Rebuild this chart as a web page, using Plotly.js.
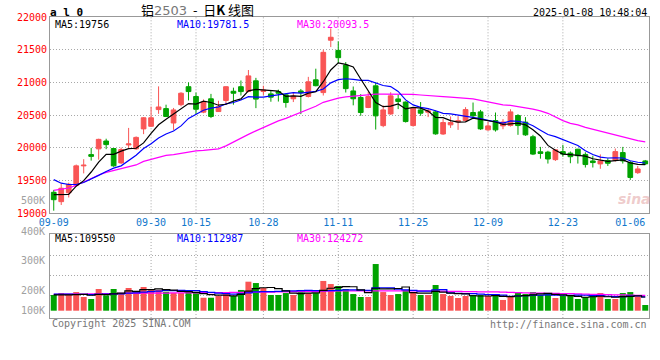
<!DOCTYPE html>
<html><head><meta charset="utf-8">
<script src="https://cdn.plot.ly/plotly-3.0.1.min.js"></script>
<style>html,body{margin:0;padding:0;background:#fff;}#chart{width:660px;height:360px;}</style>
</head><body><div id="chart"></div>
<script>
// ---- data ----
const dates = ['09-09','09-10','09-11','09-12','09-13','09-18','09-19','09-20','09-23','09-24','09-25','09-26','09-27','09-30',
'10-08','10-09','10-10','10-11','10-14','10-15','10-16','10-17','10-18','10-21','10-22','10-23','10-24','10-25','10-28','10-29','10-30','10-31',
'11-01','11-04','11-05','11-06','11-07','11-08','11-11','11-12','11-13','11-14','11-15','11-18','11-19','11-20','11-21','11-22','11-25','11-26','11-27','11-28','11-29',
'12-02','12-03','12-04','12-05','12-06','12-09','12-10','12-11','12-12','12-13','12-16','12-17','12-18','12-19','12-20','12-23','12-24','12-25','12-26','12-27','12-30','12-31',
'01-02','01-03','01-06','01-07','01-08'];
const open = [19321,19178,19314,19430,19725,19897,19985,20105,19990,19770,
20045,19985,20290,20330,20585,20600,20380,20660,20935,20785,
20546,20750,20555,20725,20865,20935,20862,21025,20862,20825,
20860,20810,20750,20870,20785,21040,20845,21645,21490,21265,
20870,20770,20617,20948,20340,20518,20748,20700,20341,20580,
20545,20550,20212,20352,20395,20418,20540,20550,20275,20418,
20336,20341,20494,20393,20170,19940,19935,19820,19943,19920,
19980,19900,19800,19755,19805,19810,19928,19775,19621,19800];
const high = [19357,19459,19468,19745,19827,20000,20140,20140,19995,20005,
20305,20175,20470,20630,20940,20660,20610,20850,21000,20845,
20740,20825,20720,20940,20920,21030,21190,21070,20950,20880,
20890,20826,20850,20900,21085,21210,21500,21825,21627,21311,
20938,20822,20855,21000,20650,20850,20811,20710,20622,20700,
20607,20570,20443,20480,20485,20622,20693,20580,20400,20540,
20440,20590,20515,20470,20199,20015,19955,19980,20045,19945,
19985,19933,19880,19900,19842,19990,20015,19800,19724,19815];
const low = [19040,19127,19242,19410,19610,19805,19820,19980,19710,19755,
20000,19970,20210,20320,20520,20470,20275,20635,20725,20515,
20530,20455,20550,20660,20660,20800,20850,20607,20805,20705,
20708,20615,20700,20515,20770,20940,20800,21540,21296,20846,
20650,20490,20607,20280,20316,20505,20592,20387,20326,20490,
20470,20200,20199,20305,20275,20402,20455,20275,20260,20249,
20285,20326,20199,20183,19890,19835,19760,19800,19866,19765,
19760,19700,19700,19680,19724,19790,19760,19510,19602,19740];
const close = [19208,19383,19444,19725,19735,19870,20130,20050,19725,19975,
20060,20160,20460,20460,20625,20480,20580,20835,20860,20590,
20700,20480,20630,20935,20835,20860,21100,20745,20885,20775,
20835,20693,20790,20845,21010,20950,21460,21690,21378,20905,
20750,20540,20785,20489,20580,20795,20708,20402,20607,20530,
20565,20214,20387,20387,20415,20585,20490,20290,20336,20275,
20395,20550,20341,20199,19905,19915,19830,19970,19905,19865,
19880,19745,19775,19800,19765,19943,19800,19548,19678,19755];
const ma5 = [19285,19285,19290,19415,19499,19631,19781,19902,19902,19950,
19988,19994,20076,20223,20353,20437,20521,20596,20676,20669,
20713,20693,20652,20667,20716,20748,20872,20895,20885,20873,
20868,20787,20796,20788,20835,20858,21011,21191,21298,21277,
21237,21053,20872,20694,20629,20638,20671,20595,20618,20608,
20562,20464,20461,20417,20394,20398,20453,20433,20423,20395,
20357,20369,20379,20352,20278,20182,20038,19964,19905,19897,
19890,19873,19834,19813,19793,19806,19817,19771,19747,19745];
const ma10 = [19515,19460,19440,19440,19470,19520,19580,19640,19690,19725,
19810,19887,19989,20063,20152,20213,20258,20336,20450,20511,
20575,20607,20624,20672,20693,20731,20783,20774,20776,20795,
20808,20829,20845,20836,20854,20863,20899,20993,21043,21056,
21047,21032,21031,20996,20953,20937,20862,20733,20656,20619,
20600,20568,20528,20518,20501,20480,20458,20447,20420,20394,
20377,20411,20406,20388,20337,20270,20204,20172,20129,20088,
20036,19956,19899,19859,19845,19848,19845,19803,19780,19769];
const ma30 = [19349,19364,19387,19426,19479,19533,19586,19625,19652,19678,
19709,19739,19793,19823,19862,19885,19897,19915,19938,19954,
19961,19977,19984,20030,20091,20153,20206,20260,20313,20367,
20413,20451,20497,20543,20581,20635,20696,20734,20760,20780,
20791,20806,20815,20821,20821,20821,20821,20821,20818,20808,
20803,20792,20783,20774,20769,20759,20750,20727,20704,20681,
20658,20650,20635,20612,20592,20566,20528,20467,20416,20375,
20352,20313,20283,20252,20221,20191,20160,20134,20110,20091];
// volume in thousands of lots
const volume = [127,143,127,151,111,95,176,124,176,143,
184,160,192,176,168,154,143,143,160,143,
105,105,119,151,119,168,235,224,184,127,
127,143,127,168,143,143,241,216,200,176,
135,111,111,378,151,127,135,168,151,127,
127,208,135,119,103,119,127,127,119,119,
87,119,151,135,151,127,143,103,119,119,
95,111,119,143,95,95,143,151,119,46];
const vma5 = [128,128,128,130,132,125,132,131,136,143,
161,157,171,171,176,170,167,157,154,149,
139,131,126,125,120,132,158,179,186,188,
179,161,142,138,142,145,164,182,189,195,
194,168,147,182,177,176,180,192,146,142,
142,156,150,143,138,137,121,119,119,122,
116,114,119,122,129,137,141,132,129,122,
116,109,113,117,113,109,114,116,121,111];
const vma10 = [134,134,134,133,132,130,132,134,136,137,
143,145,151,154,159,165,162,164,162,162,
154,149,142,139,134,136,145,153,155,154,
156,160,161,162,165,162,163,162,164,168,
169,166,164,185,186,185,174,169,164,159,
159,168,171,145,140,139,138,134,131,130,
126,117,119,121,125,126,128,125,125,125,
126,125,122,123,117,114,114,119,119,112];
const vma30 = [133,133,134,134,135,136,137,138,139,140,
141,141,142,142,143,143,144,144,145,145,
146,146,147,147,148,148,149,150,151,151,
152,153,154,155,156,157,158,159,160,161,
161,160,160,160,160,160,160,160,160,160,
160,159,158,157,156,155,154,153,153,152,
150,148,146,145,143,142,141,140,139,138,
136,135,133,132,130,129,128,126,125,124];
const tickLabels = ['09-09','09-30','10-15','10-28','11-11','11-25','12-09','12-23','01-06'];
const gridDates = ['09-30','10-15','10-28','11-11','11-25','12-09','12-23'];
const priceTicks = [19000,19500,20000,20500,21000,21500,22000];
const priceTickText = ['19000','19500','20000','20500','21000','21500','22000'];
const volLabels = ['500K','400K','300K','200K','100K'];
const priceLegend = ['MA5:19756','MA10:19781.5','MA30:20093.5'];
const volLegend = ['MA5:109550','MA10:112987','MA30:124272'];

// ---- layout helpers ----
const W=660,H=360,L=50,R=11,T=17,B=42;
const pw=W-L-R, ph=H-T-B;
const px = x => (x-L)/pw;
const py = y => (H-B-y)/ph;
const MONO = 'DejaVu Sans Mono, monospace';
const RED='#F95555', GREEN='#00A300';
const volColors = close.map((c,i)=> c>=open[i] ? RED : GREEN);

const traces = [
  {type:'candlestick', x:dates, open:open, high:high, low:low, close:close, xaxis:'x', yaxis:'y',
   increasing:{line:{color:RED,width:1}, fillcolor:RED},
   decreasing:{line:{color:GREEN,width:1}, fillcolor:GREEN},
   whiskerwidth:0, hoverinfo:'skip'},
  {type:'scatter', mode:'lines', x:dates, y:ma30, xaxis:'x', yaxis:'y', line:{color:'#FF00FF',width:1.2}, hoverinfo:'skip'},
  {type:'scatter', mode:'lines', x:dates, y:ma10, xaxis:'x', yaxis:'y', line:{color:'#0000FF',width:1.2}, hoverinfo:'skip'},
  {type:'scatter', mode:'lines', x:dates, y:ma5, xaxis:'x', yaxis:'y', line:{color:'#000000',width:1.2}, hoverinfo:'skip'},
  {type:'bar', x:dates, y:volume, xaxis:'x2', yaxis:'y2', marker:{color:volColors, line:{width:0}}, hoverinfo:'skip'},
  {type:'scatter', mode:'lines', x:dates, y:vma30, xaxis:'x2', yaxis:'y2', line:{color:'#FF00FF',width:1.2,shape:'hvh'}, hoverinfo:'skip'},
  {type:'scatter', mode:'lines', x:dates, y:vma10, xaxis:'x2', yaxis:'y2', line:{color:'#0000FF',width:1.2,shape:'hvh'}, hoverinfo:'skip'},
  {type:'scatter', mode:'lines', x:dates, y:vma5, xaxis:'x2', yaxis:'y2', line:{color:'#000000',width:1.2,shape:'hvh'}, hoverinfo:'skip'}
];

const shapes = [];
gridDates.forEach(d=>{
  shapes.push({type:'line', xref:'x', yref:'y domain', x0:d, x1:d, y0:0, y1:1, layer:'below', line:{color:'#A8A8A8', width:1, dash:'1px,2px'}});
  shapes.push({type:'line', xref:'x2', yref:'y2 domain', x0:d, x1:d, y0:0, y1:1, layer:'below', line:{color:'#A8A8A8', width:1, dash:'1px,2px'}});
});

const ann = [];
function txt(x,y,text,opts){
  ann.push(Object.assign({xref:'paper',yref:'paper',x:px(x),y:py(y),text:text,showarrow:false,
    xanchor:'left',yanchor:'middle',font:{family:MONO,size:10,color:'#000'}},opts||{}));
}
const legColors=['#000000','#0000FF','#FF00FF'];
const legX=[53,175,295];
priceLegend.forEach((t,i)=>txt(legX[i],24,t,{font:{family:MONO,size:10,color:legColors[i]}}));
volLegend.forEach((t,i)=>txt(legX[i],238.5,t,{font:{family:MONO,size:10,color:legColors[i]}}));
const volLabelY=[200,231,260.7,290,310];
volLabels.forEach((t,i)=>txt(47,volLabelY[i],t,{xanchor:'right',font:{family:MONO,size:10,color:'#A0A0A0'}}));
txt(48,12,'<b>a l 0</b>',{font:{family:MONO,size:11,color:'#000'}});
txt(139,10,'铝<span style="color:#777;font-family:DejaVu Sans">2503</span>  -  日<b>K</b> 线图',{font:{family:'Noto Sans CJK SC',size:13,color:'#000'}});
txt(649,12,'2025-01-08 10:48:04',{xanchor:'right',font:{family:MONO,size:10,color:'#000'}});
txt(50,323.5,'Copyright 2025 SINA.COM',{font:{family:MONO,size:10,color:'#777'}});
txt(649,324.5,'http://finance.sina.com.cn',{xanchor:'right',font:{family:MONO,size:10,color:'#777'}});
txt(634,199,'<b><i>sina</i></b>',{xanchor:'center',font:{family:'DejaVu Sans',size:14,color:'rgba(225,160,160,0.55)'}});

const axisLine = {showline:true, mirror:true, linecolor:'#999', linewidth:1, zeroline:false, fixedrange:true};
const layout = {
  width:W, height:H, margin:{l:L,r:R,t:T,b:B,pad:0},
  paper_bgcolor:'#fff', plot_bgcolor:'#fff', showlegend:false,
  boxgap:0.1, boxmode:'overlay', bargap:0.2,
  font:{family:MONO,size:10,color:'#000'},
  xaxis:Object.assign({type:'category', domain:[0,1], anchor:'y', range:[-0.5,79.5],
    tickmode:'array', tickvals:tickLabels, ticktext:tickLabels, ticks:'', showgrid:false,
    tickfont:{family:MONO,size:10,color:'#1177CC'}, rangeslider:{visible:false}}, axisLine),
  xaxis2:Object.assign({type:'category', matches:'x', anchor:'y2', range:[-0.5,79.5],
    showticklabels:false, ticks:'', showgrid:false}, axisLine),
  yaxis:Object.assign({domain:[py(213.3),1], anchor:'x', range:[19000,22000], tickmode:'array',
    tickvals:priceTicks, ticktext:priceTickText,
    ticks:'', showgrid:true, gridcolor:'#A8A8A8', griddash:'1px,2px', gridwidth:1,
    tickfont:{family:MONO,size:10,color:'#FF0000'}}, axisLine),
  yaxis2:Object.assign({domain:[0,py(234.3)], anchor:'x2', range:[-59.1,618.8], tickmode:'array', tickvals:[125,287,449],
    showticklabels:false, ticks:'', showgrid:true, gridcolor:'#A8A8A8', griddash:'1px,2px', gridwidth:1}, axisLine),
  shapes:shapes, annotations:ann
};
Plotly.newPlot('chart', traces, layout, {staticPlot:true, displayModeBar:false});
</script>
</body></html>
